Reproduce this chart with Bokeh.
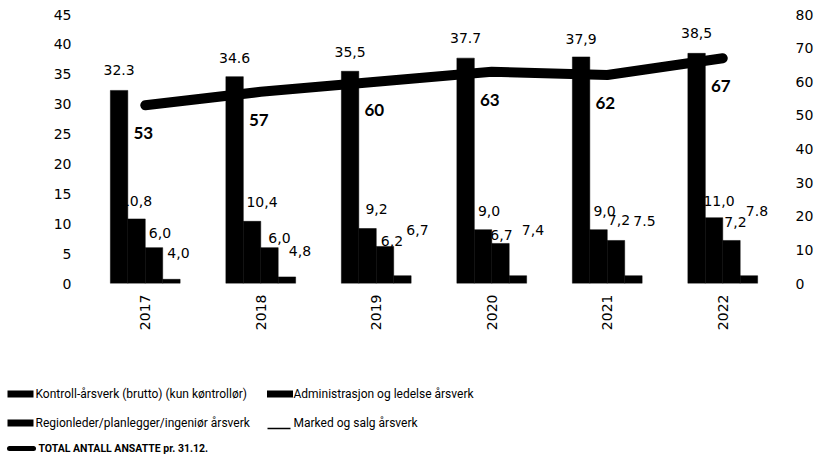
from bokeh.plotting import figure
from bokeh.models import Range1d, LinearAxis, FactorRange, ColumnDataSource, FixedTicker
from bokeh.transform import dodge
from bokeh.core.properties import value
from bokeh.embed import file_html
from bokeh.resources import INLINE

# ---------------- data ----------------
years = ["2017", "2018", "2019", "2020", "2021", "2022"]
kontroll = [32.3, 34.6, 35.5, 37.7, 37.9, 38.5]
admin = [10.8, 10.4, 9.2, 9.0, 9.0, 11.0]
region = [6.0, 6.0, 6.2, 6.7, 7.2, 7.2]
marked = [4.0, 4.8, 6.7, 7.4, 7.5, 7.8]
marked_bar = [0.7, 1.1, 1.3, 1.3, 1.3, 1.3]   # height of the (thin) bars as drawn
total = [53, 57, 60, 63, 62, 67]

kontroll_lbl = ["32.3", "34.6", "35,5", "37.7", "37,9", "38,5"]
admin_lbl = ["10,8", "10,4", "9,2", "9,0", "9,0", "11,0"]
region_lbl = ["6,0", "6,0", "6,2", "6,7", "7,2", "7,2"]
marked_lbl = ["4,0", "4,8", "6,7", "7,4", "7.5", "7.8"]
total_lbl = [str(v) for v in total]

left_ticks = [0, 5, 10, 15, 20, 25, 30, 35, 40, 45]
right_ticks = [0, 10, 20, 30, 40, 50, 60, 70, 80]

legend_labels = ["Kontroll-årsverk (brutto) (kun køntrollør)",
                 "Administrasjon og ledelse årsverk",
                 "Regionleder/planlegger/ingeniør årsverk",
                 "Marked og salg årsverk",
                 "TOTAL ANTALL ANSATTE pr. 31.12."]

# label nudges in pixels (style, not data)
kontroll_dx = [0, 0, 0, 0, 0, 0]
kontroll_dy = [-20, -19, -19, -20, -18, -20]
admin_dx = [0, 10, 9, 6, 6, 5]
admin_dy = [-18, -19, -20, -19, -19, -17]
region_dx = [6, 10, 7, 1, 3, 4]
region_dy = [-15, -10, -5, -8, -20, -18]
marked_dx = [7, 13, 15, 15, 11, 8]
marked_dy = [-7, -4, -13, -9, -18, -26]

src = ColumnDataSource(dict(year=years, kontroll=kontroll, admin=admin, region=region,
                            marked=marked, marked_bar=marked_bar, total=total,
                            kontroll_lbl=kontroll_lbl, admin_lbl=admin_lbl,
                            region_lbl=region_lbl, marked_lbl=marked_lbl,
                            total_lbl=total_lbl,
                            kontroll_dx=kontroll_dx, kontroll_dy=kontroll_dy,
                            admin_dx=admin_dx, admin_dy=admin_dy,
                            region_dx=region_dx, region_dy=region_dy,
                            marked_dx=marked_dx, marked_dy=marked_dy))

TICK_FONT = "DejaVu Sans"
W = 816
H = 370

p = figure(x_range=FactorRange(*years), y_range=Range1d(0, 45),
           width=W, height=H, output_backend="svg", toolbar_location=None,
           min_border_left=87, min_border_right=33, min_border_top=14, min_border_bottom=87)
p.extra_y_ranges = {"right": Range1d(0, 80)}
p.outline_line_color = None
p.xgrid.visible = False
p.ygrid.visible = False

bw = 0.151
offs = [-1.5 * bw, -0.5 * bw, 0.5 * bw, 1.5 * bw]
cols = ["kontroll", "admin", "region", "marked_bar"]
for off, c in zip(offs, cols):
    p.vbar(x=dodge("year", off, range=p.x_range), top=c, width=bw, source=src,
           fill_color="black", line_color="black", line_width=0.5)

p.line(x="year", y="total", y_range_name="right", source=src, line_color="black",
       line_width=10, line_join="round", line_cap="round")

# bar labels
lbl_specs = [("kontroll", "kontroll_lbl", offs[0], "kontroll_dx", "kontroll_dy"),
             ("admin", "admin_lbl", offs[1], "admin_dx", "admin_dy"),
             ("region", "region_lbl", offs[2], "region_dx", "region_dy"),
             ("marked", "marked_lbl", offs[3], "marked_dx", "marked_dy")]
for ycol, tcol, off, dx, dy in lbl_specs:
    p.text(x=dodge("year", off, range=p.x_range), y=ycol, text=tcol, source=src,
           x_offset=dx, y_offset=dy, text_align="center", text_baseline="middle",
           text_font=value(TICK_FONT), text_font_size="14px", text_color="black")

p.text(x="year", y="total", y_range_name="right", text="total_lbl", source=src,
       x_offset=-2, y_offset=28, text_align="center", text_baseline="middle",
       text_font=value("Lato"), text_font_style="bold", text_font_size="17px",
       text_color="black")

# axes
p.yaxis.ticker = FixedTicker(ticks=left_ticks)
right_axis = LinearAxis(y_range_name="right", ticker=FixedTicker(ticks=right_ticks))
p.add_layout(right_axis, "right")

for ax in [p.xaxis[0], p.yaxis[0], right_axis]:
    ax.axis_line_color = None
    ax.major_tick_line_color = None
    ax.minor_tick_line_color = None
    ax.major_tick_out = 0
    ax.major_tick_in = 0
    ax.minor_tick_out = 0
    ax.major_label_text_font = TICK_FONT
    ax.major_label_text_font_size = "14px"
    ax.major_label_text_color = "black"

p.yaxis[0].major_label_standoff = 16
right_axis.major_label_standoff = 15
p.xaxis.major_label_orientation = 1.5708
p.xaxis.major_label_standoff = 11

# ---------------- legend figure (separate root, so frames are not aligned) ----------------
LH = 457 - H
lg = figure(width=W, height=LH, x_range=Range1d(0, W), y_range=Range1d(LH, 0),
            output_backend="svg", toolbar_location=None,
            x_axis_location=None, y_axis_location=None,
            min_border=0, min_border_left=0, min_border_right=0,
            min_border_top=0, min_border_bottom=0)
lg.outline_line_color = None
lg.xgrid.visible = False
lg.ygrid.visible = False

# swatch positions (layout)
lg.rect(x=[20, 279.5, 20], y=[23.5, 23.5, 52.5], width=26, height=7,
        fill_color="black", line_color=None)
lg.line(x=[267, 290], y=[58, 58], line_color="black", line_width=1.5)
lg.line(x=[9, 33], y=[78, 78], line_color="black", line_width=5, line_cap="round")

LEG_FONT = "Roboto"
lg.text(x=[35, 293, 35, 293], y=[23, 23, 52, 52], text=legend_labels[:4],
        text_align="left", text_baseline="middle",
        text_font=value(LEG_FONT), text_font_size="12px", text_color="black")
lg.text(x=[38], y=[78], text=[legend_labels[4]], text_align="left", text_baseline="middle",
        text_font=value(LEG_FONT), text_font_style="bold",
        text_font_size="10.5px", text_color="black")

open("out.html", "w").write(file_html([p, lg], INLINE))
